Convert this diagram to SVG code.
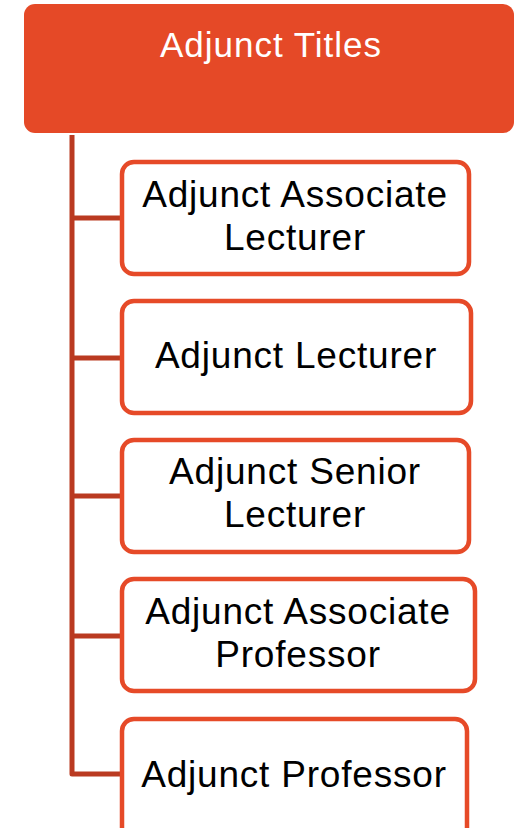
<svg xmlns="http://www.w3.org/2000/svg" width="528" height="828" viewBox="0 0 528 828">
<style>
.box{fill:#ffffff;stroke:#E64A28;stroke-width:4.5}
.conn{fill:none;stroke:#BA3A21;stroke-width:5;stroke-linejoin:round}
.t{font-family:"Liberation Sans","Noto Sans",sans-serif;font-size:37px;fill:#000;text-anchor:middle;letter-spacing:0.8px}
.title{font-family:"Liberation Sans","Noto Sans",sans-serif;font-size:35px;fill:#fff;text-anchor:middle;letter-spacing:1px}
</style>
<rect width="528" height="828" fill="#fff"/>
<g id="connectors">
<path class="conn" d="M72 135 V774 H120"/>
<path class="conn" d="M72 218 H120"/>
<path class="conn" d="M72 358 H120"/>
<path class="conn" d="M72 496 H120"/>
<path class="conn" d="M72 636 H120"/>
</g>
<g id="root">
<rect x="24" y="4" width="490" height="129" rx="11" fill="#E54927"/>
<text class="title" x="271" y="57">Adjunct Titles</text>
</g>
<g id="n1">
<rect class="box" x="122" y="162" width="347" height="112" rx="12"/>
<text class="t" x="295" y="207">Adjunct Associate</text>
<text class="t" x="295" y="250">Lecturer</text>
</g>
<g id="n2">
<rect class="box" x="122" y="301" width="349" height="112" rx="12"/>
<text class="t" x="296" y="368">Adjunct Lecturer</text>
</g>
<g id="n3">
<rect class="box" x="122" y="440" width="347" height="112" rx="12"/>
<text class="t" x="295" y="484">Adjunct Senior</text>
<text class="t" x="295" y="527">Lecturer</text>
</g>
<g id="n4">
<rect class="box" x="122" y="579" width="353" height="112" rx="12"/>
<text class="t" x="298" y="624">Adjunct Associate</text>
<text class="t" x="298" y="667">Professor</text>
</g>
<g id="n5">
<rect class="box" x="122" y="719" width="345" height="130" rx="12"/>
<text class="t" x="294" y="787">Adjunct Professor</text>
</g>
</svg>
